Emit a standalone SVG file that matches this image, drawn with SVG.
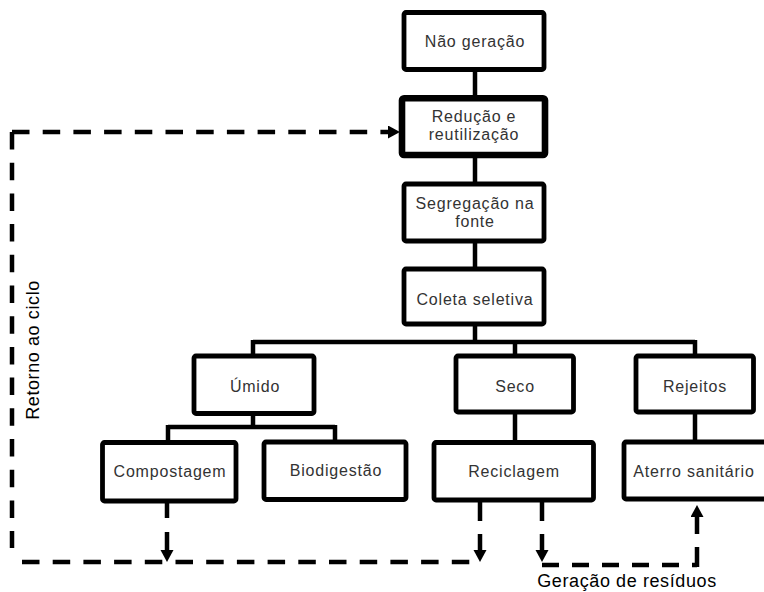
<svg xmlns="http://www.w3.org/2000/svg" width="764" height="592" viewBox="0 0 764 592">
<style>
.box{fill:#fff;stroke:#000;stroke-width:4.8}
.box.bold{stroke-width:6.6}
.t{font-family:"Liberation Sans",Arial,sans-serif;font-size:16px;letter-spacing:0.8px;fill:#333;text-anchor:middle}
.lbl{font-family:"Liberation Sans",Arial,sans-serif;font-size:18px;letter-spacing:0.6px;fill:#000;text-anchor:middle}
.ln{fill:none;stroke:#000;stroke-width:4.5}
.dash{fill:none;stroke:#000;stroke-width:4.5;stroke-dasharray:17.5 13.2}
</style>
<defs>
<marker id="ah" markerUnits="userSpaceOnUse" markerWidth="14" markerHeight="14" refX="0" refY="6.5" orient="auto">
<path d="M0,0 L12,6.5 L0,13 z" fill="#000"/>
</marker>
</defs>
<rect width="764" height="592" fill="#fff"/>
<g id="connectors">
<path class="ln" d="M475,70 V98 M475,155 V184 M475,241 V269 M475,324 V342 M253,342 H695 M253,340 V356 M515,340 V356 M695,340 V356 M253,413 V427 M168,427 H335 M168,425 V442 M335,425 V442 M515,411 V442 M695,411 V442"/>
<path class="dash" d="M12,132 H388" marker-end="url(#ah)"/>
<path class="dash" d="M12,132 V548"/>
<path class="dash" d="M22,562 H470"/>
<path class="ln" d="M167,501 V550" stroke-dasharray="17 14 30" marker-end="url(#ah)"/>
<path class="ln" d="M480,500 V550" stroke-dasharray="21 13 30" marker-end="url(#ah)"/>
<path class="ln" d="M542,500 V550" stroke-dasharray="21 13 30" marker-end="url(#ah)"/>
<path class="ln" d="M542,565 H697" stroke-dasharray="17 13"/>
<path class="ln" d="M697,567 V517" stroke-dasharray="20 13 30" marker-end="url(#ah)"/>
</g>
<g id="nao-geracao"><rect class="box" x="404" y="12.5" width="140" height="57" rx="2"/><text class="t" x="475" y="47">Não geração</text></g>
<g id="reducao"><rect class="box bold" x="402" y="98.3" width="143" height="56.7" rx="2"/><text class="t" x="474" y="122">Redução e</text><text class="t" x="474" y="140">reutilização</text></g>
<g id="segregacao"><rect class="box" x="404" y="184" width="140" height="57" rx="2"/><text class="t" x="475" y="209">Segregação na</text><text class="t" x="475" y="227">fonte</text></g>
<g id="coleta"><rect class="box" x="404" y="269" width="140" height="55" rx="2"/><text class="t" x="475" y="305">Coleta seletiva</text></g>
<g id="umido"><rect class="box" x="194" y="356" width="120" height="57.5" rx="2"/><text class="t" x="255" y="392">Úmido</text></g>
<g id="seco"><rect class="box" x="456" y="356" width="117.5" height="56" rx="2"/><text class="t" x="515" y="392">Seco</text></g>
<g id="rejeitos"><rect class="box" x="636" y="356" width="117.5" height="56" rx="2"/><text class="t" x="695" y="392">Rejeitos</text></g>
<g id="compostagem"><rect class="box" x="102.5" y="442.5" width="133.5" height="58.5" rx="2"/><text class="t" x="170" y="477">Compostagem</text></g>
<g id="biodigestao"><rect class="box" x="264" y="442" width="142" height="57.5" rx="2"/><text class="t" x="336" y="476">Biodigestão</text></g>
<g id="reciclagem"><rect class="box" x="434" y="442.5" width="159.5" height="57.5" rx="2"/><text class="t" x="514" y="477">Reciclagem</text></g>
<g id="aterro"><rect class="box" x="624" y="442" width="146" height="57" rx="2"/><text class="t" x="694" y="477">Aterro sanitário</text></g>
<g id="labels">
<text class="lbl" x="627" y="587">Geração de resíduos</text>
<text class="lbl" transform="translate(38.5,350) rotate(-90)">Retorno ao ciclo</text>
</g>
</svg>
